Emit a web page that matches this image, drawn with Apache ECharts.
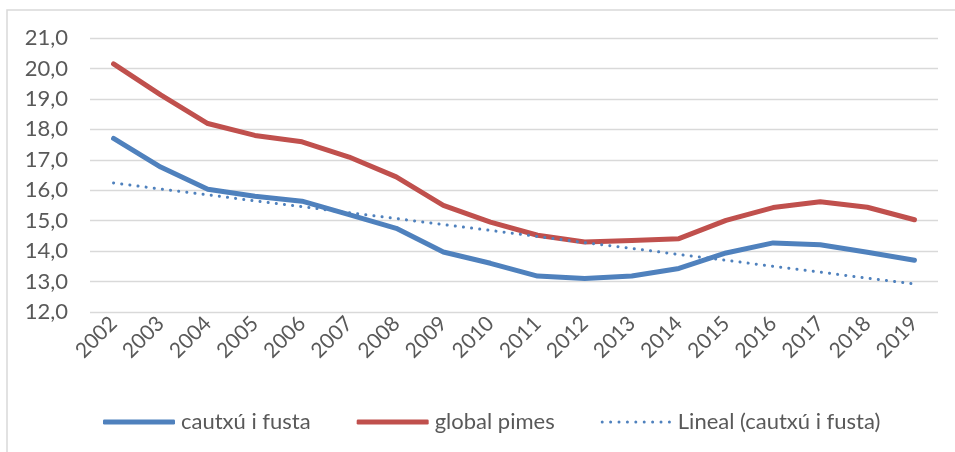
<!DOCTYPE html>
<html>
<head>
<meta charset="utf-8">
<script src="https://cdn.jsdelivr.net/npm/echarts@6/dist/echarts.min.js"></script>
<style>
html,body{margin:0;padding:0;background:#fff;}
#chart{width:955px;height:452px;}
</style>
</head>
<body>
<div id="chart"></div>
<script>
var years = ['2002','2003','2004','2005','2006','2007','2008','2009','2010','2011','2012','2013','2014','2015','2016','2017','2018','2019'];
var cautxu = [17.7,16.76,16.03,15.8,15.64,15.2,14.75,13.97,13.6,13.18,13.1,13.18,13.43,13.94,14.27,14.21,13.96,13.7];
var globalPimes = [20.15,19.13,18.19,17.8,17.59,17.09,16.44,15.5,14.95,14.52,14.3,14.35,14.41,15.01,15.43,15.62,15.44,15.03];
var lineal = [16.24,16.04,15.85,15.65,15.46,15.26,15.07,14.87,14.68,14.48,14.28,14.09,13.89,13.70,13.50,13.31,13.11,12.92];
var seriesNames = ['cautxú i fusta','global pimes','Lineal (cautxú i fusta)'];

var FONT = 'Lato';
var TXT = '#595959';

// dotted legend icon: 9 small round dots
var dotPath = 'path://M0,0 M0,5';
for (var i = 0; i < 9; i++) {
  var cx = 1.5 + i * 8.4;
  dotPath += ' M' + (cx - 1.5) + ',2.5 a1.5,1.5 0 1,0 3,0 a1.5,1.5 0 1,0 -3,0';
}

var chart = echarts.init(document.getElementById('chart'), null, {renderer:'canvas'});
chart.setOption({
  animation:false,
  backgroundColor:'#ffffff',
  textStyle:{fontFamily:FONT},
  graphic:[{
    type:'rect', shape:{x:7, y:10, width:960, height:460},
    style:{fill:'none', stroke:'#d9d9d9', lineWidth:1.5}, silent:true
  }],
  grid:{left:90, right:17, top:38, bottom:140, containLabel:false},
  legend:{
    bottom:14, left:98, padding:5,
    itemWidth:72, itemHeight:5, itemGap:46,
    textStyle:{fontFamily:FONT, fontSize:22, color:TXT, padding:[0,0,0,1]},
    data:[
      {name:seriesNames[0], icon:'roundRect'},
      {name:seriesNames[1], icon:'roundRect'},
      {name:seriesNames[2], icon:dotPath}
    ]
  },
  xAxis:{
    type:'category', data:years, boundaryGap:true,
    axisLine:{show:false}, axisTick:{show:false},
    axisLabel:{rotate:45, fontFamily:FONT, fontSize:21, color:TXT, margin:8, interval:0}
  },
  yAxis:{
    type:'value', min:12, max:21, interval:1,
    axisLine:{show:false}, axisTick:{show:false},
    splitLine:{lineStyle:{color:'#d9d9d9', width:1.3}},
    axisLabel:{fontFamily:FONT, fontSize:22, color:TXT, margin:22,
      formatter:function(v){return v.toFixed(1).replace('.',',');}}
  },
  series:[
    {name:seriesNames[0], type:'line', data:cautxu, symbol:'none', z:3,
     lineStyle:{color:'#4F81BD', width:5, cap:'round', join:'round'}, itemStyle:{color:'#4F81BD'}},
    {name:seriesNames[1], type:'line', data:globalPimes, symbol:'none', z:2,
     lineStyle:{color:'#C0504D', width:5, cap:'round', join:'round'}, itemStyle:{color:'#C0504D'}},
    {name:seriesNames[2], type:'line', data:lineal, symbol:'none', z:4,
     lineStyle:{color:'#4F81BD', width:3, type:[0.1,8.1], cap:'round'}, itemStyle:{color:'#4F81BD'}}
  ]
});
</script>
</body>
</html>
